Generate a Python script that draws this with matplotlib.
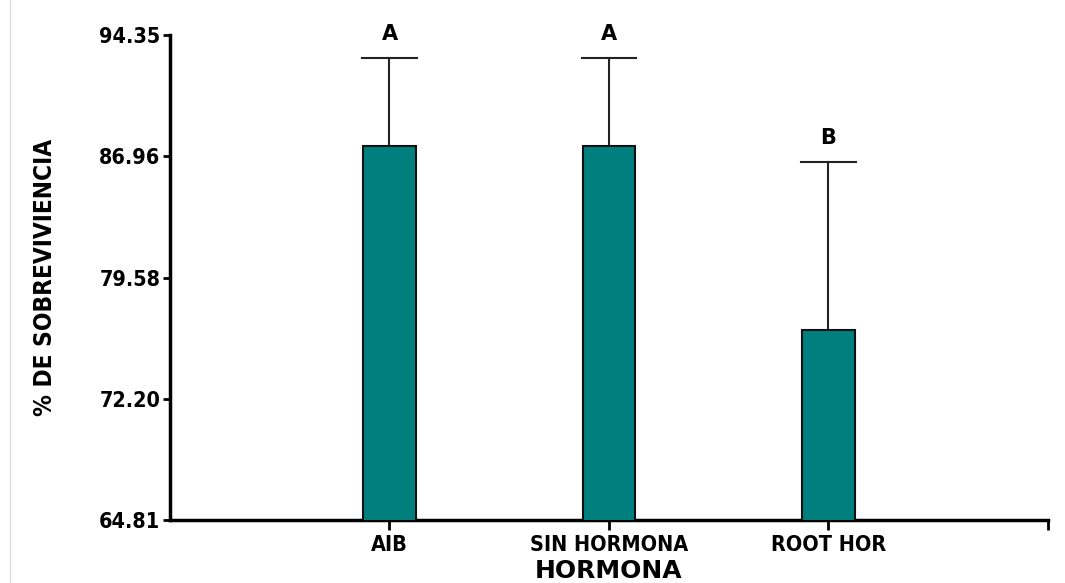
import matplotlib
matplotlib.use("Agg")
import matplotlib.pyplot as plt
from matplotlib.lines import Line2D
from matplotlib import font_manager

# datos
hormonas = ["AIB", "SIN HORMONA", "ROOT HOR"]
sobrevivencia = [87.61, 87.61, 76.38]
error = [5.32, 5.32, 10.22]
letras = ["A", "A", "B"]
yticks = [64.81, 72.20, 79.58, 86.96, 94.35]

narrow = font_manager.FontProperties(family="DejaVu Sans", stretch="condensed",
                                     weight="bold", size=15.5)
letra_b = font_manager.FontProperties(family="DejaVu Sans", weight="bold", size=15)
titulo_b = font_manager.FontProperties(family="DejaVu Sans", weight="bold", size=18)

fig = plt.figure(figsize=(10.65, 5.83), dpi=100)
ax = fig.add_axes([0.1596, 0.108, 0.8244, 0.832])

pos = [1, 2, 3]
ax.bar(pos, sobrevivencia, width=0.24, color="#007F7F", edgecolor="#111111",
       linewidth=1.5, zorder=3)
for x, v, e in zip(pos, sobrevivencia, error):
    ax.plot([x, x], [v, v + e], color="#222222", lw=1.5, zorder=2)
    ax.plot([x - 0.125, x + 0.125], [v + e, v + e], color="#222222", lw=1.5, zorder=2)

for x, v, e, l in zip(pos, sobrevivencia, error, letras):
    ax.text(x, v + e + 0.85, l, ha="center", va="bottom", fontproperties=letra_b)

ax.set_xlim(0, 4)
ax.set_ylim(yticks[0], yticks[-1])
ax.set_yticks(yticks)
ax.set_yticklabels(["%.2f" % t for t in yticks], fontproperties=narrow)
ax.set_xticks([1, 2, 3, 4])
ax.set_xticklabels(hormonas + [""], fontproperties=narrow)

for s in ["top", "right"]:
    ax.spines[s].set_visible(False)
for s in ["left", "bottom"]:
    ax.spines[s].set_linewidth(2.5)
ax.tick_params(axis="y", length=5, width=2, pad=2)
ax.tick_params(axis="x", length=7, width=2, pad=4)

ax.set_xlabel("HORMONA", fontproperties=titulo_b, labelpad=3)
ylab = font_manager.FontProperties(family="DejaVu Sans", stretch="condensed",
                                   weight="bold", size=17.5)
ax.set_ylabel("% DE SOBREVIVIENCIA", fontproperties=ylab, labelpad=30)

fig.add_artist(Line2D([0.0095, 0.0095], [0, 1], color="#dddddd", lw=1))

fig.savefig("out.png", dpi=100)
